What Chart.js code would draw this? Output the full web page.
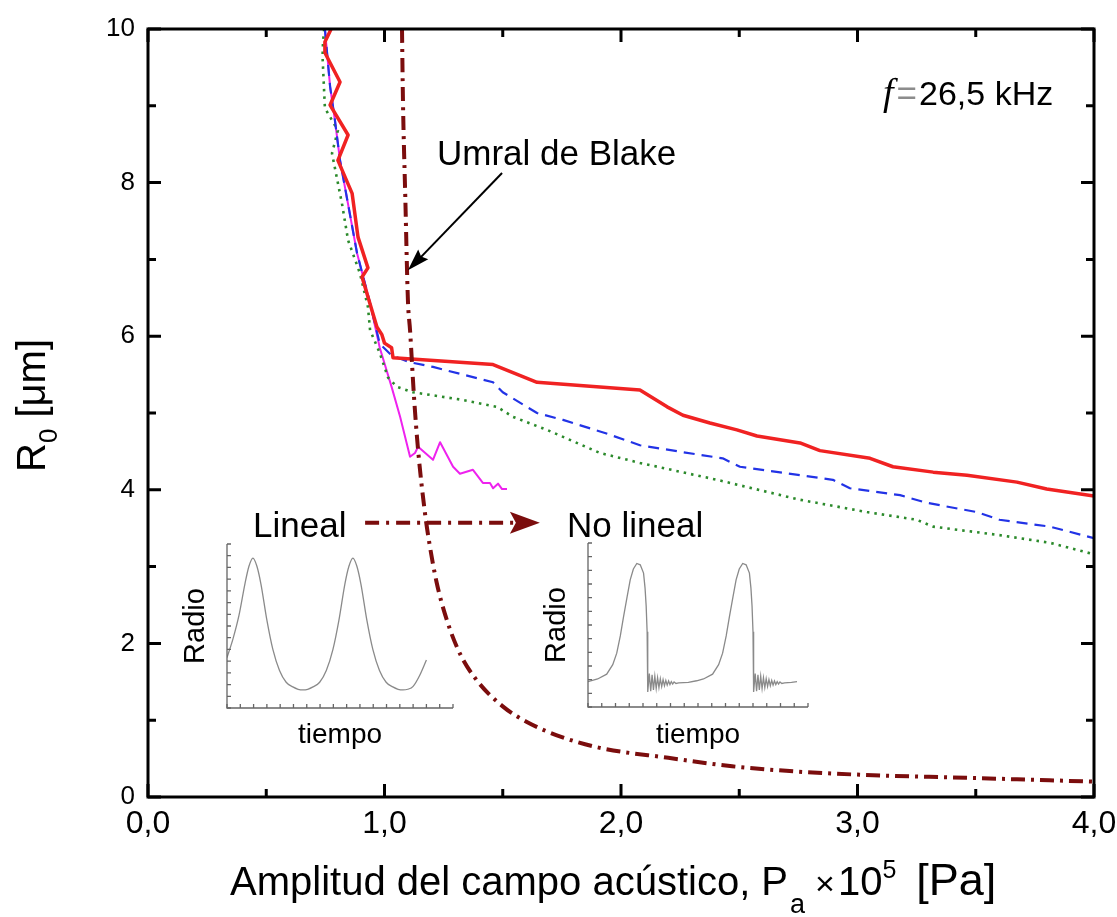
<!DOCTYPE html>
<html>
<head>
<meta charset="utf-8">
<title>Umbral de Blake</title>
<script src="https://cdn.jsdelivr.net/npm/chart.js@4.4.1/dist/chart.umd.min.js"></script>
<style>
  body { margin: 0; background: #fff; }
  #wrap { position: relative; width: 1117px; height: 917px; }
  #wrap canvas { position: absolute; }
</style>
</head>
<body>
<div id="wrap">
  <canvas id="mainChart" width="1117" height="917" style="left:0;top:0"></canvas>
  <canvas id="linChart" width="300" height="230" style="left:170px;top:530px"></canvas>
  <canvas id="nolinChart" width="300" height="230" style="left:530px;top:530px"></canvas>
</div>
<script>
// tick labels
const xLabels = ['0,0', '1,0', '2,0', '3,0', '4,0'];
const yLabels = ['0', '2', '4', '6', '8', '10'];

// R0 vs acoustic amplitude (x1e5 Pa), solid red
const redP = [0.782, 0.748, 0.748, 0.812, 0.770, 0.846, 0.803, 0.863, 0.888, 0.930, 0.905, 0.968, 0.989, 1.000, 1.030, 1.036, 1.459, 1.645, 1.911, 2.080, 2.195, 2.262, 2.376, 2.490, 2.575, 2.757, 2.841, 3.053, 3.150, 3.320, 3.463, 3.674, 3.800, 4.000];
const redR = [10.05, 9.83, 9.69, 9.31, 9.01, 8.62, 8.29, 7.86, 7.29, 6.89, 6.77, 6.12, 6.02, 5.91, 5.85, 5.72, 5.63, 5.40, 5.34, 5.30, 5.08, 4.97, 4.87, 4.78, 4.70, 4.61, 4.51, 4.41, 4.30, 4.23, 4.19, 4.10, 4.01, 3.92];

// dashed blue
const blueP = [0.748, 0.770, 0.790, 0.812, 0.884, 0.939, 0.980, 1.030, 1.108, 1.205, 1.459, 1.500, 1.645, 1.755, 1.932, 2.080, 2.262, 2.430, 2.503, 2.896, 2.968, 3.180, 3.294, 3.505, 3.600, 3.814, 4.000];
const blueR = [10.0, 9.25, 8.82, 8.29, 7.08, 6.43, 5.90, 5.75, 5.66, 5.60, 5.40, 5.27, 5.00, 4.91, 4.74, 4.58, 4.49, 4.41, 4.30, 4.13, 4.02, 3.93, 3.83, 3.71, 3.61, 3.52, 3.37];

// dotted green
const greenP = [0.745, 0.740, 0.738, 0.748, 0.803, 0.778, 0.820, 0.846, 0.896, 0.930, 0.939, 0.980, 1.015, 1.053, 1.120, 1.332, 1.476, 1.543, 1.687, 1.911, 2.080, 2.406, 2.757, 3.040, 3.250, 3.320, 3.600, 3.814, 4.000];
const greenR = [10.0, 9.83, 9.64, 8.97, 8.68, 8.38, 7.73, 7.25, 6.82, 6.38, 6.08, 5.78, 5.46, 5.34, 5.27, 5.17, 5.08, 4.95, 4.78, 4.48, 4.35, 4.13, 3.87, 3.71, 3.61, 3.52, 3.41, 3.31, 3.16];

// thin magenta
const magP = [0.748, 0.770, 0.790, 0.812, 0.884, 0.939, 0.980, 1.030, 1.066, 1.108, 1.129, 1.142, 1.205, 1.235, 1.290, 1.319, 1.374, 1.416, 1.446, 1.459, 1.480, 1.497, 1.518];
const magR = [10.0, 9.25, 8.82, 8.29, 7.08, 6.43, 5.85, 5.34, 4.95, 4.43, 4.48, 4.56, 4.39, 4.62, 4.30, 4.21, 4.26, 4.09, 4.09, 4.02, 4.08, 4.01, 4.01];

// Blake threshold, dash-dot
const blakeP = [1.074, 1.078, 1.088, 1.099, 1.108, 1.125, 1.142, 1.171, 1.190, 1.220, 1.264, 1.320, 1.390, 1.500, 1.600, 1.750, 1.910, 2.200, 2.470, 2.750, 3.010, 3.460, 4.000];
const blakeR = [10.0, 9.08, 7.80, 6.47, 6.08, 5.20, 4.52, 3.70, 3.30, 2.80, 2.30, 1.86, 1.52, 1.18, 0.98, 0.78, 0.64, 0.51, 0.40, 0.33, 0.29, 0.25, 0.20];

// inset: linear oscillation, radius vs time (arb. units)
const linT = [0, 0.45, 0.9, 1.35, 1.65, 1.95, 2.25, 2.55, 3.0, 3.45, 3.95, 4.45, 4.95, 5.35, 5.71, 6.07, 6.47, 6.97, 7.47, 7.97, 8.42, 8.87, 9.17, 9.47, 9.77, 10.07, 10.52, 10.97, 11.47, 11.97, 12.47, 12.87, 13.23, 13.6, 14.0, 14.5, 15.0];
const linR = [4.3, 5.9, 7.9, 10.6, 12.1, 12.8, 12.1, 10.6, 7.5, 5.0, 3.2, 2.2, 1.8, 1.6, 1.54, 1.6, 1.8, 2.2, 3.2, 5.0, 7.5, 10.6, 12.1, 12.8, 12.1, 10.6, 7.5, 5.0, 3.2, 2.2, 1.8, 1.6, 1.54, 1.6, 1.85, 2.8, 4.1];

// inset: nonlinear oscillation with collapse and ringing
const nolT = [0, 0.7, 1.36, 1.8, 2.09, 2.35, 2.58, 2.85, 3.07, 3.3, 3.55, 3.8, 4.04, 4.15, 4.23, 4.3, 4.33, 4.36,
  4.46, 4.56, 4.66, 4.76, 4.86, 4.96, 5.06, 5.16, 5.26, 5.36, 5.46, 5.56, 5.66, 5.76, 5.86, 5.96, 6.06, 6.16, 6.26, 6.4, 6.6,
  7.3, 7.9, 8.4, 9.06, 9.5, 9.79, 10.05, 10.28, 10.55, 10.77, 11.0, 11.25, 11.5, 11.74, 11.85, 11.93, 12.0, 12.03, 12.06,
  12.16, 12.26, 12.36, 12.46, 12.56, 12.66, 12.76, 12.86, 12.96, 13.06, 13.16, 13.26, 13.36, 13.46, 13.56, 13.66, 13.76, 13.86, 13.96, 14.1, 14.3, 14.8, 15.2];
const nolR = [1.85, 2.05, 2.4, 3.1, 3.94, 5.2, 6.57, 8.1, 9.3, 10.1, 10.5, 10.4, 9.8, 8.7, 7.4, 5.5, 3.9, 1.1,
  2.45, 1.15, 2.35, 1.25, 2.25, 1.35, 2.15, 1.42, 2.07, 1.5, 2.0, 1.56, 1.95, 1.6, 1.9, 1.64, 1.86, 1.68, 1.83, 1.72, 1.76,
  1.8, 1.92, 2.05, 2.4, 3.1, 3.94, 5.2, 6.57, 8.1, 9.3, 10.1, 10.5, 10.4, 9.8, 8.7, 7.4, 5.5, 3.9, 1.1,
  2.45, 1.15, 2.35, 1.25, 2.25, 1.35, 2.15, 1.42, 2.07, 1.5, 2.0, 1.56, 1.95, 1.6, 1.9, 1.64, 1.86, 1.68, 1.83, 1.72, 1.76, 1.8, 1.85];

const FONT = '"Liberation Sans", Arial, sans-serif';
const BLAKE = '#7b0d0d';
Chart.defaults.font.family = FONT;

const pts = (xs, ys) => xs.map((v, i) => ({ x: v, y: ys[i] }));
const onStep = (v, step) => Math.abs(v / step - Math.round(v / step)) < 1e-6;

// inward tick marks + axis lines (whole box for the main plot)
const frameTicks = {
  id: 'frameTicks',
  afterDraw(chart, args, o) {
    const { ctx, chartArea: a, scales: { x, y } } = chart;
    ctx.save();
    ctx.strokeStyle = o.color;
    ctx.lineWidth = o.width;
    ctx.beginPath();
    for (const t of x.ticks) {
      const px = x.getPixelForValue(t.value);
      const len = onStep(t.value, o.xStep) ? o.major : o.minor;
      ctx.moveTo(px, a.bottom); ctx.lineTo(px, a.bottom - len);
      if (o.box) { ctx.moveTo(px, a.top); ctx.lineTo(px, a.top + len); }
    }
    for (const t of y.ticks) {
      const py = y.getPixelForValue(t.value);
      const len = onStep(t.value, o.yStep) ? o.major : o.minor;
      ctx.moveTo(a.left, py); ctx.lineTo(a.left + len, py);
      if (o.box) { ctx.moveTo(a.right, py); ctx.lineTo(a.right - len, py); }
    }
    ctx.stroke();
    ctx.lineJoin = 'miter';
    if (o.box) {
      ctx.strokeRect(a.left, a.top, a.right - a.left, a.bottom - a.top);
    } else {
      ctx.beginPath();
      ctx.moveTo(a.left, a.top); ctx.lineTo(a.left, a.bottom); ctx.lineTo(a.right, a.bottom);
      ctx.stroke();
    }
    ctx.restore();
  }
};

// text made of pieces with own size / vertical shift (sub- and superscripts)
function runText(ctx, x0, y0, segs) {
  let cx = x0;
  for (const s of segs) {
    ctx.font = (s.style || '') + ' ' + s.size + 'px ' + (s.family || FONT);
    ctx.fillStyle = s.color || '#000';
    cx += s.dx || 0;
    ctx.fillText(s.t, cx, y0 + (s.dy || 0));
    cx += ctx.measureText(s.t).width;
  }
}

const axisTitles = {
  id: 'axisTitles',
  afterDraw(chart) {
    const ctx = chart.ctx;
    ctx.save();
    ctx.textBaseline = 'alphabetic';
    ctx.textAlign = 'left';
    runText(ctx, 230, 895, [
      { t: 'Amplitud del campo acústico, P', size: 40 },
      { t: 'a', size: 27, dy: 18, dx: 2 },
      { t: '×', size: 34, dx: 10 },
      { t: '10', size: 40, dx: 3 },
      { t: '5', size: 25, dy: -17 },
      { t: '[Pa]', size: 45, dx: 20 }
    ]);
    ctx.translate(45, 472);
    ctx.rotate(-Math.PI / 2);
    runText(ctx, 0, 0, [
      { t: 'R', size: 40 },
      { t: '0', size: 26, dy: 12 },
      { t: ' [μm]', size: 40 }
    ]);
    ctx.restore();
  }
};

function arrowHead(ctx, x1, y1, x2, y2, len, half, notch) {
  const ang = Math.atan2(y2 - y1, x2 - x1);
  const c = Math.cos(ang), s = Math.sin(ang);
  ctx.beginPath();
  ctx.moveTo(x2, y2);
  ctx.lineTo(x2 - len * c + half * s, y2 - len * s - half * c);
  ctx.lineTo(x2 - (len - notch) * c, y2 - (len - notch) * s);
  ctx.lineTo(x2 - len * c - half * s, y2 - len * s + half * c);
  ctx.closePath();
  ctx.fill();
}

// labels and arrows inside the plot, placed in data coordinates
const notes = {
  id: 'notes',
  afterDatasetsDraw(chart) {
    const { ctx, scales: { x, y } } = chart;
    const X = v => x.getPixelForValue(v), Y = v => y.getPixelForValue(v);
    ctx.save();
    ctx.textBaseline = 'alphabetic';
    ctx.textAlign = 'left';

    runText(ctx, X(3.108), Y(9.01), [
      { t: 'f', size: 38, style: 'italic', family: '"Liberation Serif", "Times New Roman", serif' },
      { t: '=', size: 35, color: '#8c8c8c', dx: 3 },
      { t: '26,5 kHz', size: 34, dx: 2 }
    ]);
    runText(ctx, X(1.222), Y(8.23), [{ t: 'Umral de Blake', size: 35 }]);
    runText(ctx, X(0.444), Y(3.385), [{ t: 'Lineal', size: 35 }]);
    runText(ctx, X(1.772), Y(3.385), [{ t: 'No lineal', size: 35 }]);

    // arrow pointing at the threshold curve
    const ax1 = X(1.497), ay1 = Y(8.125), ax2 = X(1.099), ay2 = Y(6.86);
    ctx.strokeStyle = '#000';
    ctx.fillStyle = '#000';
    ctx.lineWidth = 2;
    ctx.beginPath();
    ctx.moveTo(ax1, ay1);
    ctx.lineTo(ax2 + 12, ay2 - 12);
    ctx.stroke();
    arrowHead(ctx, ax1, ay1, ax2, ay2, 22, 7, 3);

    // linear -> nonlinear transition arrow
    const ly = Y(3.57);
    ctx.strokeStyle = BLAKE;
    ctx.fillStyle = BLAKE;
    ctx.lineWidth = 4;
    ctx.setLineDash([14, 7, 3, 7]);
    ctx.beginPath();
    ctx.moveTo(X(0.918), ly);
    ctx.lineTo(X(1.55), ly);
    ctx.stroke();
    ctx.setLineDash([]);
    arrowHead(ctx, X(0.918), ly, X(1.657), ly, 30, 11, 6);
    ctx.restore();
  }
};

new Chart('mainChart', {
  type: 'line',
  data: {
    datasets: [
      { data: pts(blakeP, blakeR), borderColor: BLAKE, borderWidth: 4, borderDash: [14, 6, 3, 6], cubicInterpolationMode: 'monotone' },
      { data: pts(redP, redR), borderColor: '#f02222', borderWidth: 3.5 },
      { data: pts(blueP, blueR), borderColor: '#2233e6', borderWidth: 2.2, borderDash: [11, 7] },
      { data: pts(greenP, greenR), borderColor: '#2b8a2b', borderWidth: 2.6, borderDash: [2.5, 5] },
      { data: pts(magP, magR), borderColor: '#ee22ee', borderWidth: 2 }
    ]
  },
  options: {
    responsive: false,
    animation: false,
    events: [],
    elements: { point: { radius: 0 }, line: { tension: 0, borderJoinStyle: 'round' } },
    layout: { padding: { top: 29, right: 23, left: 0, bottom: 0 } },
    scales: {
      x: {
        type: 'linear', min: 0, max: 4,
        afterFit: s => { s.height = 120; s.paddingLeft = 0; s.paddingRight = 0; },
        grid: { display: false, drawTicks: false },
        border: { display: false },
        ticks: {
          stepSize: 0.5, autoSkip: false, maxRotation: 0, padding: 8,
          color: '#000', font: { size: 32 },
          callback: v => onStep(v, 1) ? xLabels[Math.round(v)] : ''
        }
      },
      y: {
        type: 'linear', min: 0, max: 10,
        afterFit: s => { s.width = 148; s.paddingTop = 0; s.paddingBottom = 0; },
        grid: { display: false, drawTicks: false },
        border: { display: false },
        ticks: {
          stepSize: 1, autoSkip: false, padding: 13,
          color: '#000', font: { size: 26 },
          callback: v => onStep(v, 2) ? yLabels[Math.round(v / 2)] : ''
        }
      }
    },
    plugins: {
      legend: { display: false },
      tooltip: { enabled: false },
      frameTicks: { box: true, color: '#000', width: 3, major: 13, minor: 8, xStep: 1, yStep: 2 }
    }
  },
  plugins: [frameTicks, axisTitles, notes]
});

// small radius-vs-time panels
function inset(id, t, r, xMax, yMax, box, cubic) {
  return new Chart(id, {
    type: 'line',
    data: {
      datasets: [{
        data: pts(t, r), borderColor: '#8a8a8a', borderWidth: 1.3,
        cubicInterpolationMode: cubic ? 'monotone' : 'default'
      }]
    },
    options: {
      responsive: false,
      animation: false,
      events: [],
      elements: { point: { radius: 0 }, line: { tension: 0 } },
      layout: { padding: { top: box.top, right: box.right, left: 0, bottom: 0 } },
      scales: {
        x: {
          type: 'linear', min: 0, max: xMax,
          afterFit: s => { s.height = box.xh; },
          grid: { display: false, drawTicks: false },
          border: { display: false },
          ticks: { display: false, stepSize: 1 },
          title: { display: true, text: 'tiempo', color: '#000', font: { size: 28 }, padding: { top: 0, bottom: 8 } }
        },
        y: {
          type: 'linear', min: 0, max: yMax,
          afterFit: s => { s.width = box.yw; },
          grid: { display: false, drawTicks: false },
          border: { display: false },
          ticks: { display: false, stepSize: 1 },
          title: { display: true, text: 'Radio', color: '#000', font: { size: 29 }, padding: { top: box.ypad, bottom: 0 } }
        }
      },
      plugins: {
        legend: { display: false },
        tooltip: { enabled: false },
        frameTicks: { box: false, color: '#666', width: 1.3, major: 4, minor: 4, xStep: 1, yStep: 1 }
      }
    },
    plugins: [frameTicks]
  });
}

inset('linChart', linT, linR, 17, 14, { top: 14, right: 17, xh: 52, yw: 57, ypad: 9 }, true);
inset('nolinChart', nolT, nolR, 16, 12, { top: 13, right: 22, xh: 53, yw: 58, ypad: 10 }, false);
</script>
</body>
</html>
